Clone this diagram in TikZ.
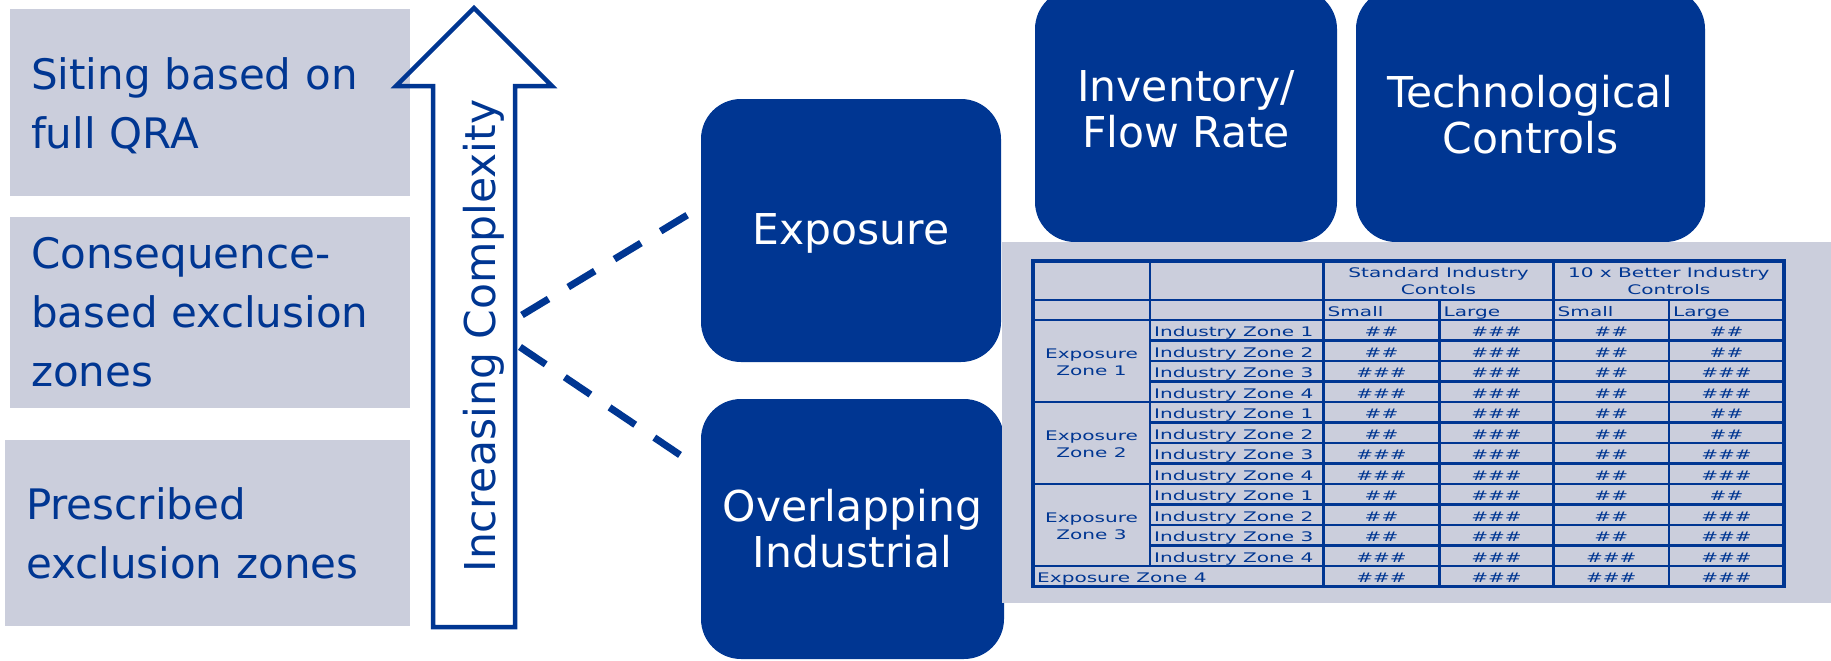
\documentclass[tikz,border=0pt]{standalone}
\usepackage{fontspec}
\setmainfont{DejaVu Sans}
\newfontfamily\tblfont[FakeStretch=1.52]{DejaVu Sans}
\definecolor{tblue}{RGB}{0,54,146}
\definecolor{pgray}{RGB}{203,206,220}
\newcommand\hashes[1]{\ifnum#1=2 \#\#\else\#\#\#\fi}
\begin{document}
\begin{tikzpicture}[x=1pt,y=-1pt,
  graybox/.style={fill=pgray, inner xsep=21pt, inner ysep=0pt, align=left, text=tblue, font=\fontsize{42}{59}\selectfont},
  bluebox/.style={fill=tblue, rounded corners=40pt, inner sep=0pt},
  wtext/.style={text=white, align=center, font=\fontsize{42.5}{46}\selectfont, inner sep=0pt},
  dline/.style={draw=tblue, line width=7pt, dash pattern=on 31pt off 23pt},
  cell/.style={draw=tblue, line width=2.6pt},
  ttext/.style={text=tblue, font=\tblfont\fontsize{13.2}{17}\selectfont, inner sep=0pt},
]
\useasboundingbox (0,0) rectangle (1831,661);

% left grey boxes
\node[graybox, text width=358pt, minimum height=187pt] (b1) at (210,102.5) {\rule{0pt}{39pt}Siting based on\\full QRA};
\node[graybox, text width=358pt, minimum height=191pt] (b2) at (210,312.5) {Consequence-\\based exclusion\\zones};
\node[graybox, text width=363pt, minimum height=186pt] (b3) at (207.5,533) {Prescribed\\exclusion zones};

% arrow
\draw[tblue, line width=4.5pt, line join=miter] (433,627) -- (433,86) -- (396,86) -- (474,8) -- (552,86) -- (515,86) -- (515,627) -- cycle;
\node[text=tblue, rotate=90, font=\fontsize{42.5}{46}\selectfont, inner sep=0pt] (ic) at (484,336) {Increasing Complexity};

% blue boxes
\node[bluebox, minimum width=300pt, minimum height=263pt] (expo) at (851,230.5) {};
\node[wtext] (expot) at ([yshift=-2.5pt]expo.center) {Exposure};
\node[bluebox, minimum width=303pt, minimum height=260pt] (over) at (852.5,529) {};
\node[wtext] (overt) at ([yshift=0.5pt]over.center) {Overlapping\\Industrial};
\node[bluebox, minimum width=302pt, minimum height=253pt] (inv) at (1186,115.5) {};
\node[wtext] (invt) at ([yshift=6pt]inv.center) {Inventory/\\Flow Rate};
\node[bluebox, minimum width=349pt, minimum height=253pt] (tech) at (1530.5,115.5) {};
\node[wtext] (techt) at ([yshift=1pt]tech.center) {Technological\\Controls};

% dashed connectors
\coordinate (d1a) at (522,315);
\coordinate (d1b) at (694,211);
\coordinate (d2a) at (520,347);
\coordinate (d2b) at (689,461);
\draw[dline] (d1a) -- (d1b);
\draw[dline] (d2a) -- (d2b);

% table panel
\node[fill=pgray, minimum width=829pt, minimum height=361pt, inner sep=0pt] (panel) at (1416.5,422.5) {};

% header row 1
\draw[cell] (1033,261) rectangle (1150,300);
\draw[cell] (1150,261) rectangle (1323.5,300);
\draw[cell] (1323.5,261) rectangle (1553.5,300);
\draw[cell] (1553.5,261) rectangle (1784,300);
\node[ttext, align=center] (hstd) at (1438.5,281) {Standard Industry\\Contols};
\node[ttext, align=center] (hbet) at (1668.75,281) {10 x Better Industry\\Controls};
% header row 2
\draw[cell] (1033,300) rectangle (1150,320);
\draw[cell] (1150,300) rectangle (1323.5,320);
\draw[cell] (1323.5,300) rectangle (1439.5,320);
\draw[cell] (1439.5,300) rectangle (1553.5,320);
\draw[cell] (1553.5,300) rectangle (1669,320);
\draw[cell] (1669,300) rectangle (1784,320);
\node[ttext, anchor=base west] (s1) at (1327.5,316) {Small};
\node[ttext, anchor=base west] (l1) at (1443.5,316) {Large};
\node[ttext, anchor=base west] (s2) at (1557.5,316) {Small};
\node[ttext, anchor=base west] (l2) at (1673,316) {Large};

% exposure zone cells
\foreach \z in {1,2,3}{
  \pgfmathsetmacro\zt{320+82*(\z-1)}
  \draw[cell] (1033,\zt) rectangle (1150,\zt+82);
  \node[ttext, align=center] (ez\z) at (1091.5,\zt+42) {Exposure\\Zone \z};
}

% data rows
\foreach \k/\a/\b/\c/\d in {0/2/3/2/2,1/2/3/2/2,2/3/3/2/3,3/3/3/2/3,4/2/3/2/2,5/2/3/2/2,6/3/3/2/3,7/3/3/2/3,8/2/3/2/2,9/2/3/2/3,10/2/3/2/3,11/3/3/3/3}{
  \pgfmathsetmacro\yt{320+20.5*\k}
  \pgfmathtruncatemacro\iz{mod(\k,4)+1}
  \draw[cell] (1150,\yt) rectangle (1323.5,\yt+20.5);
  \draw[cell] (1323.5,\yt) rectangle (1439.5,\yt+20.5);
  \draw[cell] (1439.5,\yt) rectangle (1553.5,\yt+20.5);
  \draw[cell] (1553.5,\yt) rectangle (1669,\yt+20.5);
  \draw[cell] (1669,\yt) rectangle (1784,\yt+20.5);
  \node[ttext, anchor=base west] (iz\k) at (1154,\yt+16.5) {Industry Zone \iz};
  \node[ttext, anchor=base] (va\k) at (1381.5,\yt+16.5) {\hashes{\a}};
  \node[ttext, anchor=base] (vb\k) at (1496.5,\yt+16.5) {\hashes{\b}};
  \node[ttext, anchor=base] (vc\k) at (1611.25,\yt+16.5) {\hashes{\c}};
  \node[ttext, anchor=base] (vd\k) at (1726.5,\yt+16.5) {\hashes{\d}};
}

% exposure zone 4 row
\draw[cell] (1033,566) rectangle (1323.5,586.5);
\draw[cell] (1323.5,566) rectangle (1439.5,586.5);
\draw[cell] (1439.5,566) rectangle (1553.5,586.5);
\draw[cell] (1553.5,566) rectangle (1669,586.5);
\draw[cell] (1669,566) rectangle (1784,586.5);
\node[ttext, anchor=base west] (ez4) at (1037,582.5) {Exposure Zone 4};
\node[ttext, anchor=base] (va12) at (1381.5,582.5) {\#\#\#};
\node[ttext, anchor=base] (vb12) at (1496.5,582.5) {\#\#\#};
\node[ttext, anchor=base] (vc12) at (1611.25,582.5) {\#\#\#};
\node[ttext, anchor=base] (vd12) at (1726.5,582.5) {\#\#\#};

% outer border
\draw[tblue, line width=3.5pt] (1033,261) rectangle (1784,586.5);
\end{tikzpicture}
\end{document}
